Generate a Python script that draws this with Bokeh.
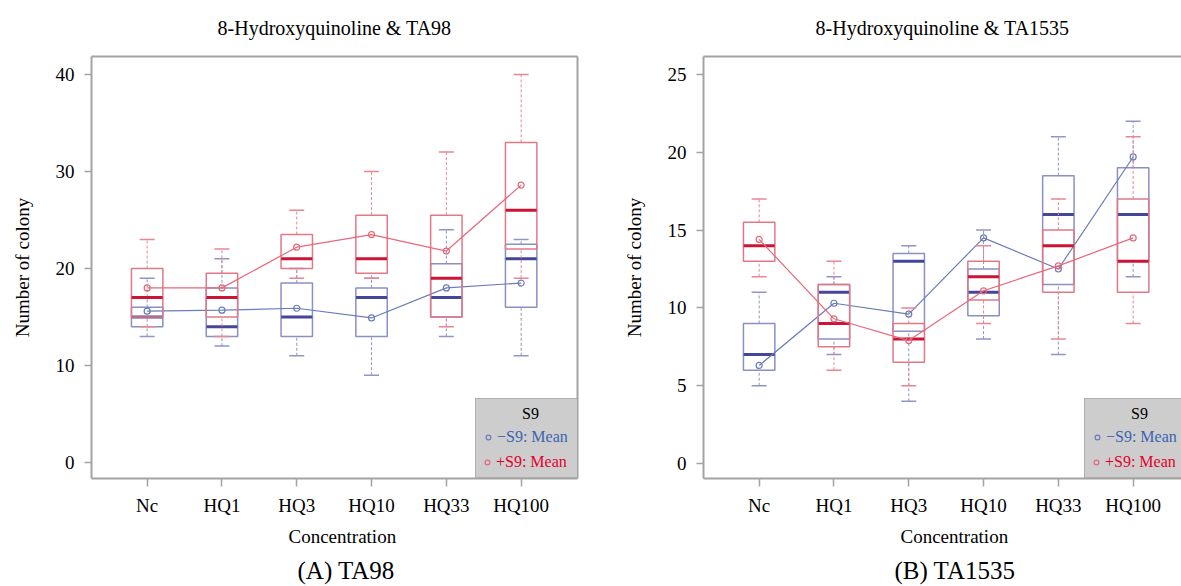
from bokeh.plotting import figure
from bokeh.layouts import row
from bokeh.models import FixedTicker, LinearAxis, Range1d, Title, Legend, LegendItem
from bokeh.embed import file_html
from bokeh.resources import INLINE

categories = ["Nc", "HQ1", "HQ3", "HQ10", "HQ33", "HQ100"]

# ---- TA98 ----
ta98_minus_low = [13, 12, 11, 9, 13, 11]
ta98_minus_q1 = [14, 13, 13, 13, 15, 16]
ta98_minus_med = [15, 14, 15, 17, 17, 21]
ta98_minus_q3 = [16, 18, 18.5, 18, 20.5, 22.5]
ta98_minus_high = [19, 21, 20, 19, 24, 23]
ta98_minus_mean = [15.6, 15.7, 15.9, 14.9, 18.0, 18.5]

ta98_plus_low = [14, 13, 19, 19, 14, 19]
ta98_plus_q1 = [15, 15, 20, 19.5, 15, 22]
ta98_plus_med = [17, 17, 21, 21, 19, 26]
ta98_plus_q3 = [20, 19.5, 23.5, 25.5, 25.5, 33]
ta98_plus_high = [23, 22, 26, 30, 32, 40]
ta98_plus_mean = [18.0, 18.0, 22.2, 23.5, 21.8, 28.6]

# ---- TA1535 ----
ta1535_minus_low = [5, 7, 4, 8, 7, 12]
ta1535_minus_q1 = [6, 8, 8.5, 9.5, 11.5, 13]
ta1535_minus_med = [7, 11, 13, 11, 16, 16]
ta1535_minus_q3 = [9, 11.5, 13.5, 12.5, 18.5, 19]
ta1535_minus_high = [11, 12, 14, 15, 21, 22]
ta1535_minus_mean = [6.3, 10.3, 9.6, 14.5, 12.5, 19.7]

ta1535_plus_low = [12, 6, 5, 9, 8, 9]
ta1535_plus_q1 = [13, 7.5, 6.5, 10.5, 11, 11]
ta1535_plus_med = [14, 9, 8, 12, 14, 13]
ta1535_plus_q3 = [15.5, 11.5, 9, 13, 15, 17]
ta1535_plus_high = [17, 13, 10, 14, 17, 21]
ta1535_plus_mean = [14.4, 9.3, 7.9, 11.1, 12.7, 14.5]

FONT = "Liberation Serif"
GRAY = "#a3a3a3"
BLUE = dict(box="#8a8fc4", med="#45459a", whisk="#8f95c6", mean="#6a7cba", legend="#3a64b0")
RED = dict(box="#e27886", med="#cc1436", whisk="#e88694", mean="#e8687a", legend="#e4002b")

xs = list(range(len(categories)))


def draw_group(p, low, q1, med, q3, high, mean, c):
    p.segment(x0=xs, y0=q3, x1=xs, y1=high, line_color=c["whisk"], line_dash="3 2", line_width=1)
    p.segment(x0=xs, y0=low, x1=xs, y1=q1, line_color=c["whisk"], line_dash="3 2", line_width=1)
    p.scatter(x=xs, y=high, marker="dash", size=15, line_color=c["whisk"], line_width=1.5)
    p.scatter(x=xs, y=low, marker="dash", size=15, line_color=c["whisk"], line_width=1.5)
    p.vbar(x=xs, width=0.42, bottom=q1, top=q3, fill_alpha=0, line_color=c["box"], line_width=1.5)
    p.scatter(x=xs, y=med, marker="dash", size=31, line_color=c["med"], line_width=3)
    p.line(x=xs, y=mean, line_color=c["mean"], line_width=1.2)
    return p.scatter(x=xs, y=mean, marker="circle", size=6, fill_color=None,
                     line_color=c["mean"], line_width=1.2)


def blank_axis():
    return LinearAxis(ticker=FixedTicker(ticks=[]), major_label_text_font_size="0px",
                      major_tick_out=0, major_tick_in=0, minor_tick_out=0, minor_tick_in=0,
                      major_label_standoff=0, axis_line_color=GRAY, axis_line_width=2)


def make_fig(title, caption, width, mb_left, mb_right, x_end, y_start, y_end, yticks,
             minus, plus, leg_x, xlabel_offset, cap_offset):
    p = figure(width=width, height=586, output_backend="svg", toolbar_location=None,
               x_range=Range1d(-0.744, x_end), y_range=Range1d(y_start, y_end),
               min_border_left=mb_left, min_border_right=mb_right,
               min_border_top=56, min_border_bottom=108,
               background_fill_color="white", border_fill_color="white", outline_line_color=None)
    xa = p.below[0]
    ya = p.left[0]
    p.grid.visible = False
    p.title.text = title
    p.title.align = "center"
    p.title.vertical_align = "top"
    p.title.text_font = FONT
    p.title.text_font_size = "20px"
    p.title.text_font_style = "normal"
    p.title.text_color = "black"
    p.title.standoff = 32

    p.add_layout(blank_axis(), "above")
    if mb_right > 0:
        p.add_layout(blank_axis(), "right")

    xa.ticker = FixedTicker(ticks=xs)
    xa.major_label_overrides = {i: c for i, c in enumerate(categories)}
    ya.ticker = FixedTicker(ticks=yticks)
    ya.axis_label = "Number of colony"
    ya.axis_label_standoff = 20
    ya.major_label_standoff = 10
    for ax in (xa, ya):
        ax.axis_line_color = GRAY
        ax.axis_line_width = 2
        ax.major_tick_line_color = GRAY
        ax.major_tick_line_width = 1.5
        ax.major_tick_in = 0
        ax.minor_tick_out = 0
        ax.minor_tick_in = 0
        ax.major_label_text_font = FONT
        ax.major_label_text_font_size = "19px"
        ax.major_label_text_color = "black"
        ax.axis_label_text_font = FONT
        ax.axis_label_text_font_size = "19px"
        ax.axis_label_text_font_style = "normal"
        ax.axis_label_text_color = "black"
    xa.major_tick_out = 8
    xa.major_label_standoff = 8
    ya.major_tick_out = 7

    p.add_layout(Title(text="Concentration", align="left", offset=xlabel_offset,
                       text_font=FONT, text_font_size="19px", text_font_style="normal",
                       text_color="black", standoff=11), "below")
    p.add_layout(Title(text=caption, align="left", offset=cap_offset,
                       text_font=FONT, text_font_size="25px", text_font_style="normal",
                       text_color="black", standoff=5), "below")

    rb = draw_group(p, *minus, BLUE)
    rr = draw_group(p, *plus, RED)

    common = dict(background_fill_color="#cecdcd", background_fill_alpha=1.0,
                  label_text_font=FONT, label_text_font_size="16px",
                  label_height=20, glyph_height=20, glyph_width=12, label_standoff=3,
                  label_width=76, spacing=4, margin=0)
    leg_a = Legend(items=[LegendItem(label="\u2212S9: Mean", renderers=[rb]),
                          LegendItem(label="+S9: Mean", renderers=[rr])],
                   title="\u00a0" * 10 + "S9", title_text_font=FONT, title_text_font_size="16px",
                   title_text_font_style="normal", title_text_color="black",
                   title_standoff=4,
                   location=(leg_x, 0), padding=6, label_text_color=BLUE["legend"],
                   border_line_color="#8f8f8f", border_line_width=1.5, **common)
    leg_b = Legend(items=[LegendItem(label="+S9: Mean", renderers=[rr])],
                   location=(leg_x + 1, 1), padding=5, label_text_color=RED["legend"],
                   border_line_alpha=0, **common)
    p.add_layout(leg_a)
    p.add_layout(leg_b)
    return p


p1 = make_fig("8-Hydroxyquinoline & TA98", "(A) TA98", 608, 91, 31, -0.744 + 486 / 74.8,
              -16 / 9.7, 406 / 9.7, [0, 10, 20, 30, 40],
              (ta98_minus_low, ta98_minus_q1, ta98_minus_med, ta98_minus_q3, ta98_minus_high, ta98_minus_mean),
              (ta98_plus_low, ta98_plus_q1, ta98_plus_med, ta98_plus_q3, ta98_plus_high, ta98_plus_mean),
              384, 197, 206)
p2 = make_fig("8-Hydroxyquinoline & TA1535", "(B) TA1535", 573, 95, 0, -0.744 + 478 / 74.8,
              -15 / 15.56, 407 / 15.56, [0, 5, 10, 15, 20, 25],
              (ta1535_minus_low, ta1535_minus_q1, ta1535_minus_med, ta1535_minus_q3, ta1535_minus_high, ta1535_minus_mean),
              (ta1535_plus_low, ta1535_plus_q1, ta1535_plus_med, ta1535_plus_q3, ta1535_plus_high, ta1535_plus_mean),
              381, 197, 191)

layout = row(p1, p2)
open("out.html", "w").write(file_html(layout, INLINE))
